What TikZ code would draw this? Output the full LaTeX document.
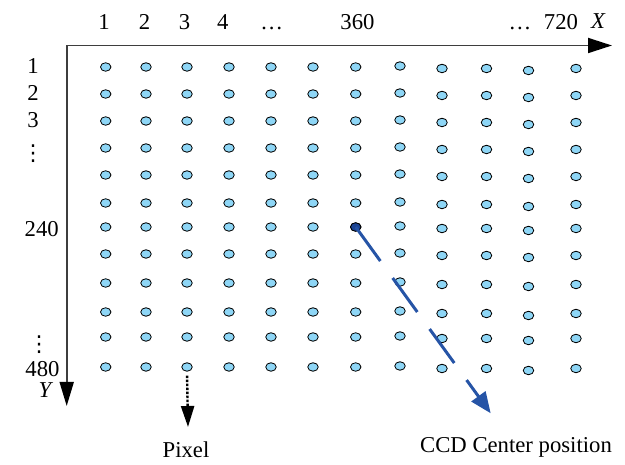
\documentclass[tikz,border=0pt]{standalone}
\usepackage{fontspec}
\setmainfont{Liberation Serif}
\newfontfamily\symfont{DejaVu Sans}
\usetikzlibrary{arrows.meta,shapes.geometric}
\definecolor{pixfill}{RGB}{142,214,246}
\definecolor{axisgray}{RGB}{62,62,62}
\definecolor{ccdblue}{RGB}{38,84,166}
\definecolor{ccddark}{RGB}{28,68,148}
\begin{document}
\begin{tikzpicture}[x=1pt,y=-1pt,
  lbl/.style={anchor=base,inner sep=0pt,font=\fontsize{22.7}{27}\selectfont},
  vdots/.style={anchor=center,inner sep=0pt,font=\fontsize{22}{26}\symfont},
  pixel/.style={ellipse,draw=black,line width=0.8pt,fill=pixfill,
    minimum width=10.5pt,minimum height=8.5pt,inner sep=0pt},
  axis/.style={draw=axisgray,line width=1.8pt,line join=miter},
  pixarrow/.style={draw=black,line width=2.4pt,dash pattern=on 2.5pt off 1.5pt,
    -{Triangle[length=21pt,width=13pt]}},
  ccdarrow/.style={draw=ccdblue,line width=3pt,dash pattern=on 42pt off 21pt,
    -{Triangle[length=21pt,width=17pt]}}]
\useasboundingbox (0,0) rectangle (625,465);

% pixel grid
\foreach \y [count=\r] in {67,94,121,148,175,203,227,254,283,312,337,367}{
  \foreach \x/\dy [count=\c] in {105.7/0,146/0,187/0,229/0,271/0,313/0,355.7/0,
      400/-1,442/1.5,486.5/1.5,528.5/3.5,576/1.5}{
    \node[pixel] (d-\r-\c) at (\x,{\y+\dy}) {};
  }
}
\node[pixel,fill=ccddark] (ccd) at (d-7-7.center) {};

% axes
\coordinate (O) at (66.7,45.5);
\coordinate (Xend) at (612,45.5);
\coordinate (Yend) at (66.7,406);
\draw[axis,{Triangle[length=24pt,width=15pt,color=black]}-{Triangle[length=24pt,width=14pt,color=black]}]
  (Xend) -- (O) -- (Yend);

% column labels
\node[lbl] (cx1) at (104,30) {1};
\node[lbl] (cx2) at (144.5,30) {2};
\node[lbl] (cx3) at (184.5,30) {3};
\node[lbl] (cx4) at (222.7,30) {4};
\node[lbl] (cxd) at (271.7,30) {…};
\node[lbl] (cx360) at (357.5,30) {360};
\node[lbl] (cxe) at (520,30) {…};
\node[lbl] (cx720) at (561,30) {720};
\node[lbl] (xname) at (598,29) {\itshape X};

% row labels
\node[lbl] (ry1) at (33,74) {1};
\node[lbl] (ry2) at (33,100.5) {2};
\node[lbl] (ry3) at (33,127.5) {3};
\node[vdots] (ryd) at (33,153.5) {⋮};
\node[lbl] (ry240) at (41.7,236.7) {240};
\node[vdots] (rye) at (39,345) {⋮};
\node[lbl] (ry480) at (42.5,376.7) {480};
\node[lbl] (yname) at (45,398) {\itshape Y};

% pixel callout
\coordinate (ptip) at (188,427);
\draw[pixarrow,shorten <=4pt] (d-12-3.south) -- (ptip);
\node[lbl] (pixlabel) at (186,458) {Pixel};

% CCD centre callout
\coordinate (ctip) at (490.7,413.3);
\draw[ccdarrow] (ccd.center) -- (ctip);
\node[lbl] (ccdlabel) at (516,452.5) {CCD Center position};
\end{tikzpicture}
\end{document}
